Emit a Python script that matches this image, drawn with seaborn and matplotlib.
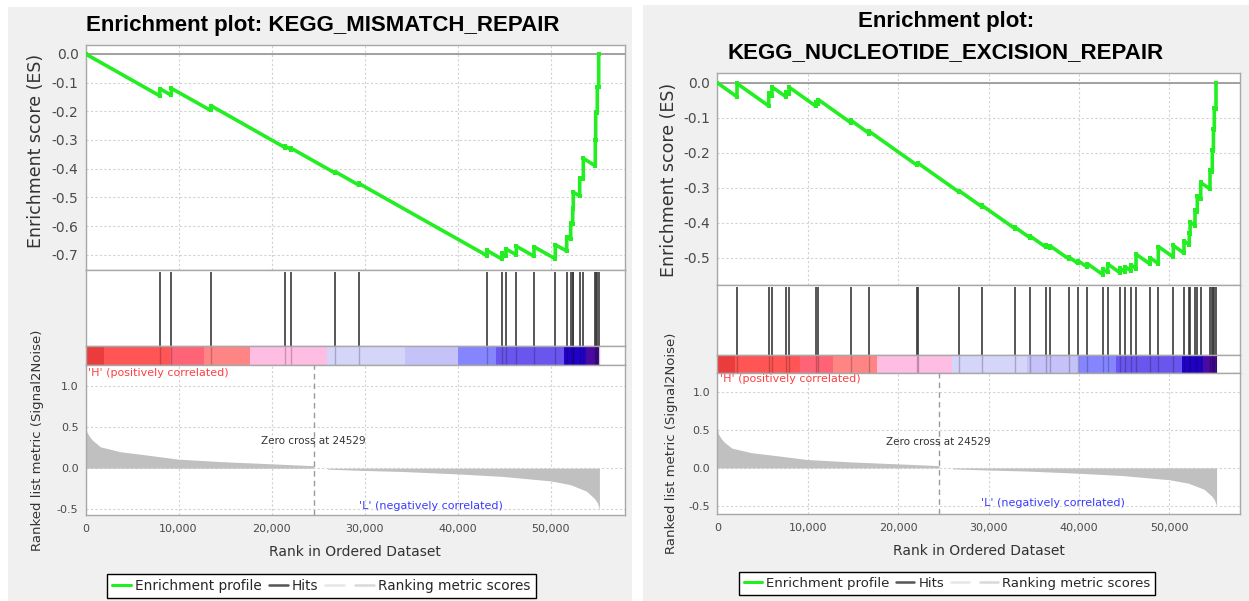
import numpy as np
import pandas as pd
import seaborn as sns
import matplotlib
matplotlib.use("Agg")
import matplotlib.pyplot as plt
from matplotlib.lines import Line2D
from matplotlib.patches import Rectangle
from matplotlib.ticker import FuncFormatter

# ---------------- data ----------------
title_left = "Enrichment plot: KEGG_MISMATCH_REPAIR"
title_right_1 = "Enrichment plot:"
title_right_2 = "KEGG_NUCLEOTIDE_EXCISION_REPAIR"

mmr_hit_ranks = [7974, 9221, 13455, 21472, 22117, 26813, 29360, 43149, 44761, 45191,
                 46298, 48200, 50489, 51714, 52144, 52359, 52420, 53111, 53498, 54788,
                 54830, 55003, 55153]
mmr_es_before = [-0.146, -0.144, -0.197, -0.327, -0.334, -0.415, -0.457, -0.703, -0.715, -0.703,
                 -0.700, -0.705, -0.714, -0.687, -0.646, -0.594, -0.539, -0.495, -0.437, -0.390,
                 -0.301, -0.207, -0.117]
mmr_es_after = [-0.121, -0.120, -0.180, -0.322, -0.329, -0.410, -0.451, -0.685, -0.695, -0.680,
                -0.670, -0.672, -0.665, -0.638, -0.590, -0.538, -0.482, -0.432, -0.364, -0.300,
                -0.204, -0.114, 0.000]

ner_hit_ranks = [2179, 5686, 6051, 7600, 7965, 10918, 11173, 14757, 16814, 22058,
                 22168, 26770, 29248, 32931, 34591, 36361, 36803, 38905, 39867, 40929,
                 42633, 43186, 44546, 45133, 45730, 46316, 47865, 48783, 50442, 51626,
                 52212, 52300, 52843, 53097, 53473, 54502, 54757, 54880, 54978, 55166]
ner_es_before = [-0.040, -0.066, -0.037, -0.040, -0.032, -0.067, -0.060, -0.114, -0.145, -0.235,
                 -0.233, -0.313, -0.354, -0.417, -0.443, -0.470, -0.472, -0.504, -0.516, -0.527,
                 -0.548, -0.542, -0.543, -0.541, -0.537, -0.531, -0.518, -0.517, -0.498, -0.487,
                 -0.463, -0.432, -0.408, -0.368, -0.332, -0.304, -0.255, -0.194, -0.135, -0.074]
ner_es_after = [-0.002, -0.030, -0.012, -0.025, -0.013, -0.055, -0.048, -0.107, -0.139, -0.231,
                -0.229, -0.309, -0.350, -0.413, -0.438, -0.464, -0.466, -0.498, -0.508, -0.517,
                -0.532, -0.518, -0.530, -0.526, -0.520, -0.490, -0.500, -0.468, -0.465, -0.452,
                -0.430, -0.398, -0.363, -0.325, -0.285, -0.250, -0.192, -0.133, -0.073, 0.000]

metric_ranks = [0, 100, 400, 750, 1600, 3750, 5900, 9950, 14550, 20000, 24500, 24529,
                24530, 25990, 26000, 30000, 34000, 40000, 44800, 50000, 52100, 53850,
                54700, 55000, 55230]
metric_values = [0.53, 0.45, 0.39, 0.34, 0.26, 0.20, 0.17, 0.11, 0.08, 0.053, 0.03, 0.028,
                 0.0, 0.0, -0.012, -0.028, -0.04, -0.07, -0.10, -0.155, -0.20, -0.28,
                 -0.37, -0.42, -0.50]

band_edges = [0, 2000, 9100, 12750, 17700, 26000, 34300, 40050, 44100, 51400, 53750, 55230]
band_colors = ["#ea3c3c", "#ff5555", "#fe6475", "#ff8585", "#ffbde3", "#d5d5fa",
               "#c5c1f9", "#8585ff", "#6a55ee", "#2200cc", "#4a0aa0"]

zero_cross = 24529
x_ticks = [0, 10000, 20000, 30000, 40000, 50000]
mmr_es_ticks = [0.0, -0.1, -0.2, -0.3, -0.4, -0.5, -0.6, -0.7]
ner_es_ticks = [0.0, -0.1, -0.2, -0.3, -0.4, -0.5]
metric_ticks = [-0.5, 0.0, 0.5, 1.0]

# ---------------- style ----------------
sns.set_theme(style="white")
plt.rcParams["font.family"] = ["DejaVu Sans"]

W, H = 1249, 601
fig = plt.figure(figsize=(W / 100, H / 100), dpi=100)
fig.patch.set_facecolor("white")

fig.patches.append(Rectangle((8 / W, 0), (632 - 8) / W, 1 - 7 / H, transform=fig.transFigure,
                             facecolor="#f0f0f0", edgecolor="none", zorder=-10))
fig.patches.append(Rectangle((643 / W, 0), (W - 643) / W, 1 - 5 / H, transform=fig.transFigure,
                             facecolor="#f0f0f0", edgecolor="none", zorder=-10))

GREEN = "#22ee22"
SPINE = "#a8a8a8"
GRID = "#d2d2d2"
TICKC = "#4a4a4a"


def add_axes(x0, x1, top, bottom):
    return fig.add_axes([x0 / W, 1 - bottom / H, (x1 - x0) / W, (bottom - top) / H])


def style_spines(ax):
    for s in ax.spines.values():
        s.set_color(SPINE)
        s.set_linewidth(1.0)


panels = [
    dict(ranks=mmr_hit_ranks, before=mmr_es_before, after=mmr_es_after, es_ticks=mmr_es_ticks,
         x0=85.5, x1=625, es=(45, 270), hits=(270, 346), bar=(346, 365), met=(365, 515),
         es_ylim=(-0.753, 0.031), met_ylim=(-0.570, 1.256), xmax=57980,
         eslab=(36, 151), metlab=(38, 440), xlab_y=552, leg=(321.5, 586), legfs=9.8),
    dict(ranks=ner_hit_ranks, before=ner_es_before, after=ner_es_after, es_ticks=ner_es_ticks,
         x0=717.3, x1=1240, es=(73, 285), hits=(285, 355), bar=(355, 372.7), met=(372.7, 514.3),
         es_ylim=(-0.578, 0.028), met_ylim=(-0.608, 1.248), xmax=57820,
         eslab=(668.5, 180), metlab=(671.5, 443), xlab_y=551, leg=(947, 583.5), legfs=9.5),
]

for p in panels:
    # ---- enrichment score axes ----
    ax = add_axes(p["x0"], p["x1"], *p["es"])
    ax.set_facecolor("white")
    xs = [0]
    ys = [0.0]
    for r, b, a in zip(p["ranks"], p["before"], p["after"]):
        xs += [r, r]
        ys += [b, a]
    df = pd.DataFrame({"rank": xs, "es": ys})
    ax.axhline(0, color="#9a9a9a", lw=1.3, zorder=1)
    sns.lineplot(data=df, x="rank", y="es", sort=False, estimator=None, color=GREEN,
                 lw=2.6, marker="s", markersize=2.8, markeredgewidth=0, ax=ax, zorder=3)
    ax.set_xlim(0, p["xmax"])
    ax.set_ylim(*p["es_ylim"])
    ax.set_xticks(x_ticks)
    ax.set_yticks(p["es_ticks"])
    ax.set_yticklabels([f"{v:.1f}" for v in p["es_ticks"]])
    ax.tick_params(axis="x", length=0, labelbottom=False)
    ax.tick_params(axis="y", length=0, pad=5, labelsize=10, labelcolor=TICKC)
    ax.grid(True, color=GRID, lw=0.8, linestyle=(0, (2, 2)))
    ax.set_xlabel("")
    ax.set_ylabel("")
    style_spines(ax)

    # ---- hits axes ----
    axh = add_axes(p["x0"], p["x1"], *p["hits"])
    axh.set_facecolor("white")
    axh.vlines(p["ranks"], 0, 0.97, color="#3a3a3a", lw=1.2)
    axh.set_xlim(0, p["xmax"])
    axh.set_ylim(0, 1)
    axh.set_xticks([])
    axh.set_yticks([])
    style_spines(axh)

    # ---- colour band axes ----
    axb = add_axes(p["x0"], p["x1"], *p["bar"])
    axb.set_facecolor("white")
    for i, c in enumerate(band_colors):
        axb.axvspan(band_edges[i], band_edges[i + 1], color=c, lw=0)
    axb.vlines(p["ranks"], 0, 1, color="black", lw=1.0, alpha=0.22)
    axb.set_xlim(0, p["xmax"])
    axb.set_ylim(0, 1)
    axb.set_xticks([])
    axb.set_yticks([])
    style_spines(axb)

    # ---- ranked metric axes ----
    axm = add_axes(p["x0"], p["x1"], *p["met"])
    axm.set_facecolor("white")
    axm.fill_between(metric_ranks, metric_values, 0, color="#c0c0c0", lw=0, zorder=2)
    axm.axvline(zero_cross, color="#9a9a9a", lw=1.0, linestyle=(0, (4, 3)), zorder=3)
    axm.set_xlim(0, p["xmax"])
    axm.set_ylim(*p["met_ylim"])
    axm.set_xticks(x_ticks)
    axm.xaxis.set_major_formatter(FuncFormatter(lambda v, pos: f"{int(v):,}"))
    axm.set_yticks(metric_ticks)
    axm.set_yticklabels([f"{v:.1f}" for v in metric_ticks])
    axm.tick_params(axis="x", length=2, pad=4.5, labelsize=8, labelcolor=TICKC, color=SPINE)
    axm.tick_params(axis="y", length=0, pad=5, labelsize=8, labelcolor=TICKC)
    axm.grid(True, color=GRID, lw=0.8, linestyle=(0, (2, 2)), zorder=0)
    axm.set_axisbelow(True)
    style_spines(axm)
    axm.text(250, 1.16, "'H' (positively correlated)", color="#ff4040", fontsize=8,
             ha="left", va="center")
    axm.text(37100, -0.46, "'L' (negatively correlated)", color="#3a3aff", fontsize=8,
             ha="center", va="center")
    axm.text(24450, 0.335, f"Zero cross at {zero_cross}", color="#333333", fontsize=7.5,
             ha="center", va="center")

    # ---- labels ----
    fig.text(p["eslab"][0] / W, 1 - p["eslab"][1] / H, "Enrichment score (ES)", rotation=90,
             ha="center", va="center", fontsize=12.5, color="#333333")
    fig.text(p["metlab"][0] / W, 1 - p["metlab"][1] / H, "Ranked list metric (Signal2Noise)",
             rotation=90, ha="center", va="center", fontsize=9.5, color="#333333")
    fig.text((p["x0"] + p["x1"]) / 2 / W, 1 - p["xlab_y"] / H, "Rank in Ordered Dataset",
             ha="center", va="center", fontsize=10, color="#333333")

    handles = [Line2D([], [], color=GREEN, lw=2.2),
               Line2D([], [], color="#555555", lw=1.8),
               Line2D([], [], color="#e6e6e6", lw=1.8),
               Line2D([], [], color="#d9d9d9", lw=1.8)]
    labels = ["Enrichment profile", "Hits", "", "Ranking metric scores"]
    leg = fig.legend(handles, labels, loc="center",
                     bbox_to_anchor=(p["leg"][0] / W, 1 - p["leg"][1] / H), ncol=4,
                     frameon=True, fancybox=False, edgecolor="black", facecolor="white",
                     fontsize=p["legfs"], handlelength=1.4, handletextpad=0.3,
                     columnspacing=0.5, borderpad=0.35, framealpha=1)
    leg.get_frame().set_linewidth(1.0)

# ---- titles ----
fig.text(322.7 / W, 1 - 31 / H, title_left, ha="center", va="baseline", fontsize=16,
         fontweight="bold", family=["Liberation Sans", "DejaVu Sans"], color="black")
fig.text(946 / W, 1 - 27.5 / H, title_right_1, ha="center", va="baseline", fontsize=16,
         fontweight="bold", family=["Liberation Sans", "DejaVu Sans"], color="black")
fig.text(946 / W, 1 - 58.5 / H, title_right_2, ha="center", va="baseline", fontsize=16,
         fontweight="bold", family=["Liberation Sans", "DejaVu Sans"], color="black")

fig.savefig("out.png", dpi=100, facecolor="white")
